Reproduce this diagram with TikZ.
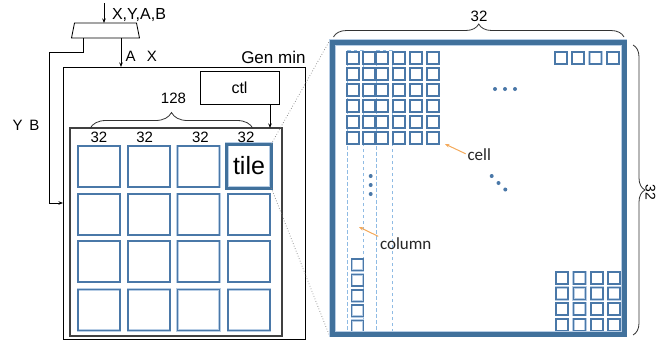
\documentclass[tikz,border=0pt]{standalone}
\usepackage{fontspec}
\setmainfont{Liberation Sans}
\newfontfamily\notefont{Carlito}
\usetikzlibrary{arrows.meta,decorations.pathreplacing}
\definecolor{tileblue}{HTML}{4A78A8}
\definecolor{halo}{HTML}{B7CDE5}
\definecolor{frameblue}{HTML}{41719C}
\definecolor{colblue}{HTML}{8FBBE4}
\definecolor{noteorange}{HTML}{F4A95A}
\definecolor{boxgray}{HTML}{404040}

\begin{document}
\begin{tikzpicture}[x=1pt,y=-1pt,
  every node/.style={inner sep=0pt, outer sep=0pt},
  wire/.style={draw=black, line width=0.8pt},
  tip/.style={-{Stealth[length=4.5pt,width=3.5pt]}},
  notetip/.style={draw=noteorange, line width=1pt, -{Stealth[length=4.5pt,width=3.5pt]}},
  txt/.style={font=\fontsize{15}{18}\selectfont},
  note/.style={font=\notefont\fontsize{17}{20}\selectfont, text=black!85},
  tilebox/.style={draw=tileblue, line width=1.4pt, preaction={draw=halo, line width=2.8pt},
    minimum width=42pt, minimum height=41pt},
  cellbox/.style={draw=tileblue, line width=1.1pt, preaction={draw=halo, line width=2.1pt},
    minimum width=12pt, minimum height=12pt},
  dotmark/.style={fill=tileblue, circle, minimum size=4pt},
  brace/.style={draw=black!80, line width=0.8pt, decorate, decoration={brace, amplitude=#1}},
  column/.style={draw=colblue, line width=1pt, dash pattern=on 3.5pt off 2.5pt},
  zoomline/.style={draw=gray, line width=0.7pt, dotted}
]
% canvas
\fill[white] (0,0) rectangle (656,341);
\useasboundingbox (0,0) rectangle (656,341);

% ---------- generator block ----------
\node[minimum width=68pt, minimum height=15pt] (mux) at (105.5,30.5) {};
\draw[line width=0.8pt] (mux.south west) -- (mux.south east) -- ([xshift=-3pt]mux.north east)
  -- ([xshift=3pt]mux.north west) -- cycle;
\node[draw=black, line width=0.9pt, minimum width=242pt, minimum height=272pt] (gen) at (184,203) {};
\node[draw=boxgray, line width=1.2pt, minimum width=212pt, minimum height=208pt] (inner) at (176,232) {};
\node[draw=black, line width=0.9pt, minimum width=79pt, minimum height=33pt,
      font=\fontsize{16}{19}\selectfont] (ctl) at (239.5,87.5) {ctl};

\node[txt, font=\fontsize{16}{19}\selectfont, anchor=west] (inlab) at (112,15) {X,Y,A,B};
\node[txt, anchor=west] (axlab) at (125.5,56) {A\hspace{0.75em}X};
\node[txt] (yblab) at (26,125) {Y\hspace{0.45em}B};
\node[txt, font=\fontsize{17}{20}\selectfont, anchor=east] (genlab) at (305.5,57.5) {Gen min};

% mux connections
\coordinate (xin) at (104,3);
\draw[wire, tip] (xin) -- (xin |- mux.north);
\path ([xshift=15.5pt]mux.south) coordinate (muxR);
\path ([xshift=-22.5pt]mux.south) coordinate (muxL);
\coordinate (ybturn) at (49,52);
\draw[wire, tip] (muxR) -- (muxR |- gen.north);
\draw[wire, tip] (muxL) |- (ybturn) |- (gen.west);
\path ([xshift=30.5pt]ctl.south) coordinate (ctlout);
\draw[wire, tip] (ctlout) -- (ctlout |- inner.north);

% tiles
\foreach \c/\x in {1/99,2/149,3/198.5,4/249}{
  \foreach \r/\y in {2/214.5,3/261.5,4/310}{
    \node[tilebox] (tile-\r-\c) at (\x,\y) {};
  }
}
\foreach \c/\x in {1/99,2/149,3/198.5}{
  \node[tilebox] (tile-1-\c) at (\x,166.5) {};
}
\node[draw=frameblue, line width=3pt, preaction={draw=halo, line width=4.4pt},
      minimum width=44.5pt, minimum height=44pt,
      font=\fontsize{25}{30}\selectfont] (tile-1-4) at (249,166) {tile};

\draw[brace=16pt] (90,128.5) -- (253,128.5);
\node[txt] (w128) at (173.5,98.5) {128};
\node[txt] (w1) at (99,137.5) {32};
\node[txt] (w2) at (144.7,137.5) {32};
\node[txt] (w3) at (200.5,137.5) {32};
\node[txt] (w4) at (246,137.5) {32};

% ---------- magnified tile ----------
\path (478.25,188.25) coordinate (bigc);
\draw[zoomline] (tile-1-4.north east) -- (330,40) coordinate (bignw);
\draw[zoomline] (tile-1-4.south east) -- (330,337) coordinate (bigsw);

% columns
\draw[column] (347,50) rectangle (363,333);
\draw[column] (376,50) rectangle (392,333);

% cell array, upper left
\foreach \i/\x in {1/347,2/363,3/376,4/393,5/410,6/427}{
  \foreach \j/\y in {1/52,2/68,3/84,4/100,5/116,6/132}{
    \node[cellbox] (cell-\j-\i) at (\x+6,\y+6) {};
  }
}
% first column, bottom
\foreach \j/\y in {1/259,2/274.5,3/290,4/305,5/320.5}{
  \node[cellbox, minimum width=11.5pt, minimum height=11.5pt] (colcell-\j) at (357.5,\y+5.75) {};
}
% top row, right end
\foreach \i/\x in {1/555,2/572,3/589.5,4/607}{
  \node[cellbox] (rowcell-\i) at (\x+6,58) {};
}
% lower right corner
\foreach \i/\x in {1/556,2/573.5,3/591,4/608}{
  \foreach \j/\y in {1/272,2/287.5,3/303,4/319}{
    \node[cellbox] (cornercell-\j-\i) at (\x+6,\y+6) {};
  }
}

% ellipses
\foreach \k/\x in {1/495,2/505,3/515}{ \node[dotmark] (hdot\k) at (\x,89) {}; }
\foreach \k/\y in {1/176,2/185,3/194}{ \node[dotmark] (vdot\k) at (370.7,\y) {}; }
\foreach \k/\x/\y in {1/491.7/176,2/498.5/183,3/505.3/189.5}{ \node[dotmark] (ddot\k) at (\x,\y) {}; }

% tile frame
\node[draw=frameblue, line width=5pt, preaction={draw=halo, line width=6.6pt},
      minimum width=291.5pt, minimum height=291.5pt] (big) at (bigc) {};

% dimensions of the tile
\draw[brace=13pt] (333.5,37) -- (624,37);
\node[txt] (wtop) at (479,16.5) {32};
\draw[brace=12pt] (633,45) -- (633,335);
\node[txt, font=\fontsize{14}{17}\selectfont, rotate=-90] (wside) at (650.5,192) {32};

% annotations
\node[note, anchor=base west] (celllab) at (467.5,160.5) {cell};
\coordinate (cellpt) at (445,144);
\draw[notetip, shorten <=2pt] (celllab.west) -- (cellpt);
\node[note, anchor=base west] (collab) at (380,249) {column};
\coordinate (colpt) at (359,227);
\draw[notetip, shorten <=2pt] (collab.north west) -- (colpt);
\end{tikzpicture}
\end{document}
